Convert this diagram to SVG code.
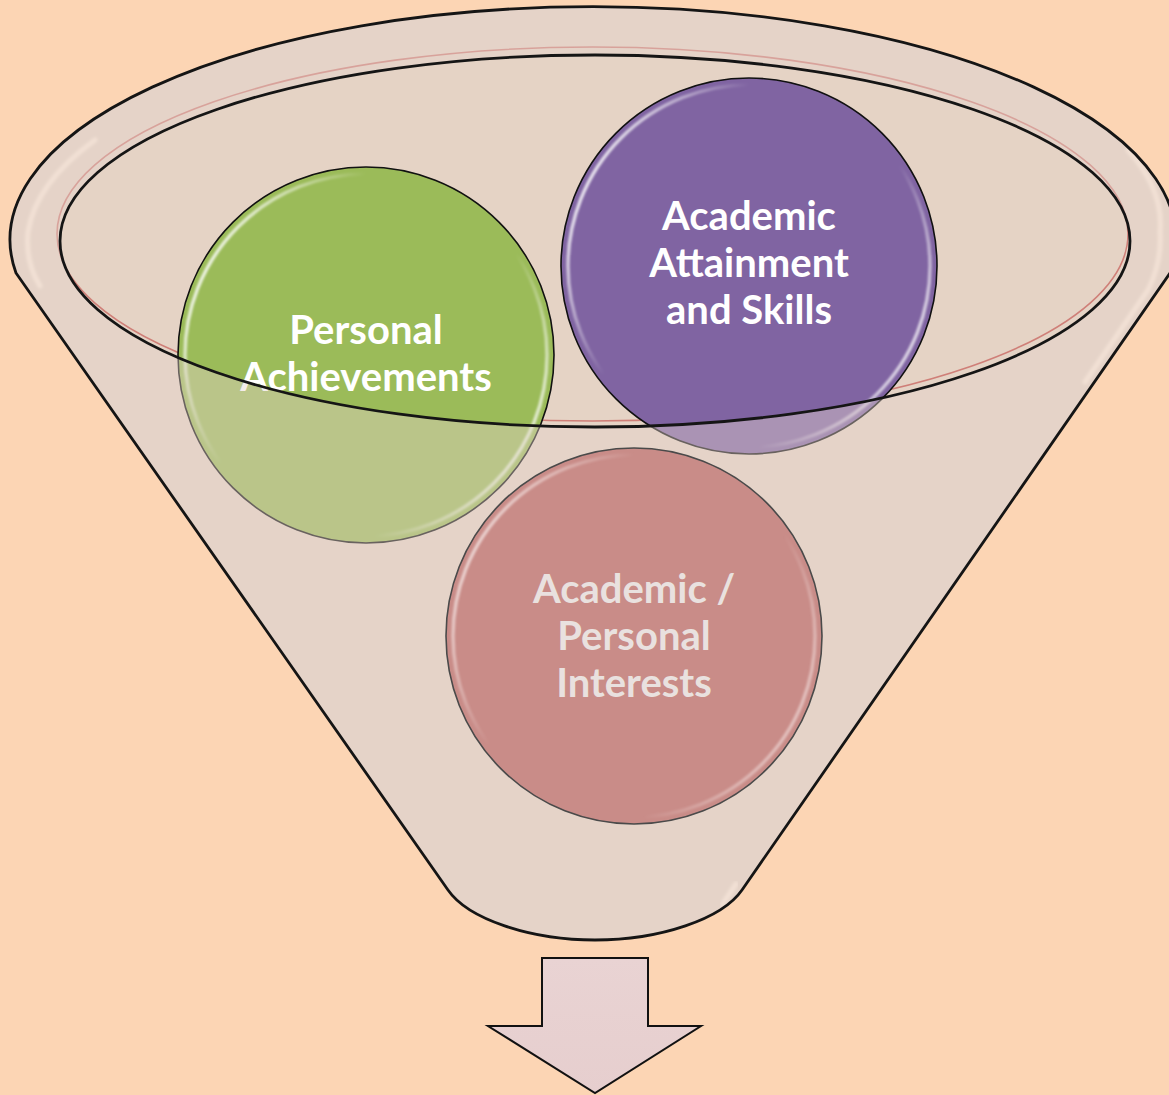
<svg xmlns="http://www.w3.org/2000/svg" width="1169" height="1095" viewBox="0 0 1169 1095">
  <style>
    .lbl { font-family: Lato, "Open Sans", "Liberation Sans", sans-serif; font-weight: bold; font-size: 40px; text-anchor: middle; fill: #FFFFFF; }
    .lbl-muted { fill: #E9E1DF; }
    .edge { fill: none; stroke: #151515; stroke-width: 2.8; stroke-linejoin: round; }
    .cedge { fill: none; stroke: #111111; stroke-width: 1.6; }
    .gloss { fill: none; stroke-width: 3.5; filter: url(#soft); }
    .rimlight { fill: none; stroke: #FBE9DA; stroke-width: 5; stroke-linecap: round; filter: url(#soft2); }
  </style>
  <defs>
    <filter id="soft" x="-10%" y="-10%" width="120%" height="120%">
      <feGaussianBlur stdDeviation="0.8"/>
    </filter>
    <filter id="soft2" x="-10%" y="-10%" width="120%" height="120%">
      <feGaussianBlur stdDeviation="1.5"/>
    </filter>
    <linearGradient id="glossGrad" x1="0" y1="0.25" x2="1" y2="0.75">
      <stop offset="0" stop-color="#FFFFFF" stop-opacity="0.95"/>
      <stop offset="0.3" stop-color="#FFFFFF" stop-opacity="0"/>
      <stop offset="0.72" stop-color="#FFFFFF" stop-opacity="0"/>
      <stop offset="1" stop-color="#FFFFFF" stop-opacity="0.85"/>
    </linearGradient>
    <linearGradient id="glossMuted" x1="0" y1="0.25" x2="1" y2="0.75">
      <stop offset="0" stop-color="#F4E4E2" stop-opacity="0.9"/>
      <stop offset="0.3" stop-color="#F4E4E2" stop-opacity="0"/>
      <stop offset="0.72" stop-color="#F4E4E2" stop-opacity="0"/>
      <stop offset="1" stop-color="#F4E4E2" stop-opacity="0.7"/>
    </linearGradient>
    <linearGradient id="arrowGrad" x1="0" y1="0" x2="0" y2="1">
      <stop offset="0" stop-color="#E9D3D3"/>
      <stop offset="1" stop-color="#E6CECE"/>
    </linearGradient>
    <path id="funnelShape" d="M16,273 L448,890 C468,919 530,940 595,940 C660,940 722,919 742,890 L1170,273 A583,233 0 1 0 16,273 Z"/>
  </defs>

  <rect x="0" y="0" width="1169" height="1095" fill="#FCD5B4"/>

  <g id="funnel">
    <use href="#funnelShape" fill="#E5D3C5"/>
    <path class="rimlight" d="M95,140 A568,222 0 0 0 28,232 Q25,262 40,286"/>
    <path class="rimlight" d="M1128,150 A568,222 0 0 1 1160,232 Q1162,262 1148,290 L1085,382"/>
    <path class="rimlight" d="M722,905 Q730,893 736,884"/>
    <ellipse cx="592.5" cy="234" rx="535.5" ry="187" fill="none" stroke="#CF7F78" stroke-width="1.6"/>
  </g>

  <g id="node-academic-attainment">
    <circle cx="749" cy="266" r="188" fill="#8064A2"/>
    <circle cx="749" cy="266" r="181" class="gloss" stroke="url(#glossGrad)"/>
    <circle cx="749" cy="266" r="188" class="cedge"/>
    <text class="lbl" x="749" y="230">Academic</text>
    <text class="lbl" x="749" y="277">Attainment</text>
    <text class="lbl" x="749" y="324">and Skills</text>
  </g>

  <g id="node-personal-achievements">
    <circle cx="366" cy="355" r="188" fill="#9BBB59"/>
    <circle cx="366" cy="355" r="181" class="gloss" stroke="url(#glossGrad)"/>
    <circle cx="366" cy="355" r="188" class="cedge"/>
    <text class="lbl" x="366" y="344">Personal</text>
    <text class="lbl" x="366" y="391">Achievements</text>
  </g>

  <g id="funnel-front">
    <path d="M16,273 L448,890 C468,919 530,940 595,940 C660,940 722,919 742,890 L1170,273 A583,233 0 1 0 16,273 Z M60,241 A535,186 0 1 0 1130,241 A535,186 0 1 0 60,241 Z" fill="#E4D3CC" fill-opacity="0.42" fill-rule="evenodd"/>
  </g>

  <g id="node-academic-personal-interests">
    <circle cx="634" cy="636" r="188" fill="#C98C88"/>
    <circle cx="634" cy="636" r="181" class="gloss" stroke="url(#glossMuted)"/>
    <circle cx="634" cy="636" r="188" fill="none" stroke="#4A4A4A" stroke-width="1.6"/>
    <text class="lbl lbl-muted" x="634" y="603">Academic /</text>
    <text class="lbl lbl-muted" x="634" y="650">Personal</text>
    <text class="lbl lbl-muted" x="634" y="697">Interests</text>
  </g>

  <g id="funnel-outlines">
    <ellipse cx="595" cy="241" rx="535" ry="186" class="edge"/>
    <use href="#funnelShape" class="edge"/>
  </g>

  <g id="connectors">
    <g id="output-arrow">
      <polygon points="542,958 648,958 648,1026 701,1026 595,1093 488,1026 542,1026" fill="url(#arrowGrad)" stroke="#111111" stroke-width="2" stroke-linejoin="miter"/>
      <line x1="552" y1="972" x2="552" y2="1038" stroke="#FFFFFF" stroke-width="3" filter="url(#soft)"/>
      <line x1="637" y1="972" x2="637" y2="1038" stroke="#FFFFFF" stroke-width="3" filter="url(#soft)"/>
    </g>
  </g>
</svg>
